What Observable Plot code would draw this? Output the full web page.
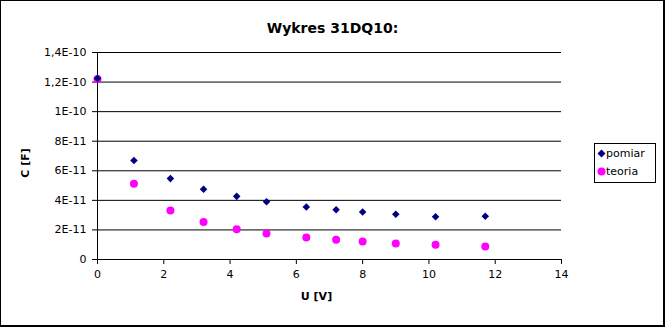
<!DOCTYPE html>
<html>
<head>
<meta charset="utf-8">
<script src="https://cdn.jsdelivr.net/npm/d3@7"></script>
<script src="https://cdn.jsdelivr.net/npm/@observablehq/plot@0.6"></script>
<style>
  body { margin: 0; background: #fff; }
  #wrap { position: relative; width: 665px; height: 327px; overflow: hidden; background: #fff; font-family: "DejaVu Sans", sans-serif; }
  #border { position: absolute; left: 0; top: 0; width: 665px; height: 327px; box-sizing: border-box;
            border-left: 1px solid #000; border-top: 1px solid #000; border-right: 2px solid #000; border-bottom: 2px solid #000; pointer-events: none; }
  #title { position: absolute; left: 0; top: 20px; width: 665px; text-align: center; font-size: 14px; font-weight: bold; line-height: 16px; color: #000; }
  #chart { position: absolute; left: 0; top: 0; }
  #legend { position: absolute; left: 594px; top: 143px; width: 62px; height: 40px; box-sizing: border-box; border: 1px solid #000; background: #fff; font-size: 11px; color: #000; }
  .item { position: absolute; left: 0; height: 14px; line-height: 14px; white-space: nowrap; }
  .item svg { position: absolute; left: 2px; top: 2px; }
  .item span { position: absolute; left: 11px; top: 0; }
</style>
</head>
<body>
<div id="wrap">
  <div id="chart"></div>
  <div id="title">Wykres 31DQ10:</div>
  <div id="legend"></div>
  <div id="border"></div>
</div>
<script>
// Data
const U = [0, 1.1, 2.2, 3.2, 4.2, 5.1, 6.3, 7.2, 8.0, 9.0, 10.2, 11.7];
const pomiar = [1.225e-10, 6.7e-11, 5.47e-11, 4.75e-11, 4.27e-11, 3.91e-11, 3.55e-11, 3.37e-11, 3.21e-11, 3.06e-11, 2.89e-11, 2.92e-11];
const teoria = [1.22e-10, 5.13e-11, 3.32e-11, 2.53e-11, 2.05e-11, 1.76e-11, 1.49e-11, 1.34e-11, 1.22e-11, 1.08e-11, 1.0e-11, 0.88e-11];
const seriesNames = ["pomiar", "teoria"];
const xTicks = [0, 2, 4, 6, 8, 10, 12, 14];
const yTicks = [0, 2e-11, 4e-11, 6e-11, 8e-11, 1e-10, 1.2e-10, 1.4e-10];
const yTickLabels = ["0", "2E-11", "4E-11", "6E-11", "8E-11", "1E-10", "1,2E-10", "1,4E-10"];
const title = "Wykres 31DQ10:";
const xLabel = "U [V]";
const yLabel = "C [F]";

const colors = { pomiar: "#000080", teoria: "#ff00ff" };

const dataP = U.map((u, i) => ({ u, c: pomiar[i] }));
const dataT = U.map((u, i) => ({ u, c: teoria[i] }));

const plot = Plot.plot({
  width: 665,
  height: 327,
  marginLeft: 97,
  marginRight: 104,
  marginTop: 52,
  marginBottom: 68,
  style: { fontFamily: "DejaVu Sans, sans-serif", fontSize: "11px", color: "#000", background: "transparent" },
  x: { domain: [0, 14] },
  y: { domain: [0, 1.4e-10] },
  marks: [
    Plot.ruleY(yTicks.slice(1), { x1: 0, x2: 14, stroke: "#000", strokeWidth: 1 }),
    Plot.ruleY([0], { x1: 0, x2: 14, stroke: "#000" }),
    Plot.ruleX([0], { y1: 0, y2: 1.4e-10, stroke: "#000" }),
    Plot.axisX({ ticks: xTicks, tickSize: 5, tickPadding: 6, tickFormat: d => String(d), label: null }),
    Plot.axisY({ ticks: yTicks, tickSize: 5, tickPadding: 6, tickFormat: (d, i) => yTickLabels[yTicks.findIndex(t => Math.abs(t - d) < 1e-15)], label: null }),
    Plot.dot(dataT, { x: "u", y: "c", r: 4, fill: colors.teoria, stroke: "none" }),
    Plot.dot(dataP, { x: "u", y: "c", r: 3.4, symbol: "diamond2", fill: colors.pomiar, stroke: "none" }),
    Plot.text([yLabel], { frameAnchor: "left", dx: -72, dy: 7, rotate: -90, fontWeight: "bold", fontSize: 11, lineAnchor: "middle", textAnchor: "middle", fill: "#000" }),
    Plot.text([xLabel], { frameAnchor: "bottom", dx: -13, dy: 37, fontWeight: "bold", fontSize: 11, lineAnchor: "middle", textAnchor: "middle", fill: "#000" })
  ]
});
document.getElementById("chart").appendChild(plot);
document.getElementById("title").textContent = title;

// Legend
const legend = document.getElementById("legend");
seriesNames.forEach((name, i) => {
  const item = document.createElement("div");
  item.className = "item";
  item.style.top = (3 + i * 18) + "px";
  const shape = name === "pomiar"
    ? `<svg width="9" height="9" viewBox="-4.5 -4.5 9 9"><path d="M0,-4L4,0L0,4L-4,0Z" fill="${colors[name]}"/></svg>`
    : `<svg width="9" height="9" viewBox="-4.5 -4.5 9 9"><circle r="4" fill="${colors[name]}"/></svg>`;
  item.innerHTML = shape + `<span>${name}</span>`;
  legend.appendChild(item);
});
</script>
</body>
</html>
